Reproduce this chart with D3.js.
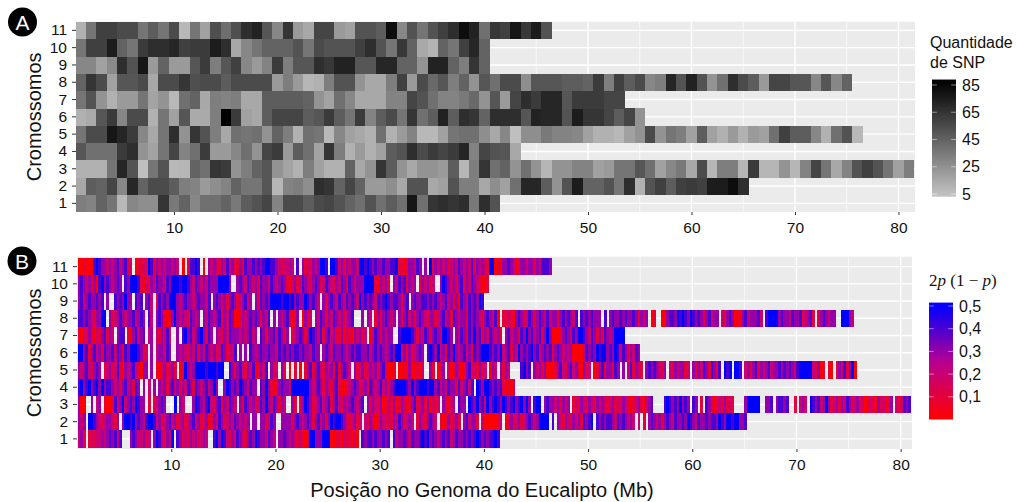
<!DOCTYPE html>
<html>
<head>
<meta charset="utf-8">
<script src="https://cdnjs.cloudflare.com/ajax/libs/d3/7.8.5/d3.min.js"></script>
<style>
html, body { margin: 0; padding: 0; background: #fff; }
svg { display: block; }
text { font-family: "Liberation Sans", Arial, sans-serif; fill: #111; }
</style>
</head>
<body>
<svg id="chart" width="1019" height="502"></svg>
<script>
const chromosomes = [1, 2, 3, 4, 5, 6, 7, 8, 9, 10, 11];
const xTicks = [10, 20, 30, 40, 50, 60, 70, 80];
const xMinor = [5, 15, 25, 35, 45, 55, 65, 75];
const snpTicks = [5, 25, 45, 65, 85];
const hetTicks = [0.1, 0.2, 0.3, 0.4, 0.5];

// SNP count per Mb, one value per cell starting at Mb 1
const snpChr1 = [33,31,44,37,8,29,26,26,65,35,44,29,39,39,44,35,47,52,58,31,55,55,47,55,58,52,44,39,52,39,47,39,78,39,65,68,65,68,35,68,52];
const snpChr2 = [15,47,44,58,29,70,44,55,55,47,33,31,21,26,31,44,37,37,50,9,31,33,26,68,65,44,58,44,21,21,26,15,52,52,15,18,52,33,33,15,26,18,39,70,70,47,24,52,74,44,44,52,37,68,11,52,59,47,59,62,59,74,74,82,68];
const snpChr3 = [11,11,11,37,70,52,5,37,52,8,9,44,39,65,62,24,33,44,50,24,17,11,33,18,11,11,44,15,24,65,47,24,15,24,24,21,47,9,33,65,39,44,24,39,24,9,24,24,31,31,18,21,37,37,50,39,18,29,35,15,55,9,33,33,9,62,9,9,24,9,31,58,37,15,31,52,59,52,37,18,33];
const snpChr4 = [50,39,39,39,62,68,24,17,37,58,31,39,62,21,21,29,39,24,58,62,21,47,39,17,65,33,11,21,11,18,47,52,68,55,62,58,62,70,31,58,52,50,15];
const snpChr5 = [37,55,55,78,70,62,29,15,37,68,24,65,52,33,15,39,37,39,24,44,33,11,39,37,8,29,18,15,11,39,11,21,31,8,8,18,37,39,39,26,15,29,5,26,26,35,31,31,29,18,11,11,8,18,24,55,24,37,33,18,47,18,11,21,11,21,18,39,59,47,47,29,11,39,52,8];
const snpChr6 = [11,14,50,62,29,55,55,11,37,18,50,14,14,33,85,62,18,15,47,58,58,58,47,50,62,47,37,62,31,47,55,37,65,39,47,72,47,68,65,44,68,68,68,50,72,70,70,52,76,65,65,58,47,58,24];
const snpChr7 = [37,52,24,11,21,21,37,17,24,8,39,44,15,33,31,33,15,15,47,47,47,47,44,24,17,39,29,15,15,15,31,31,58,52,39,31,31,35,42,24,50,21,58,68,62,70,70,50,62,62,62,58,58];
const snpChr8 = [44,65,55,18,50,50,55,15,55,55,65,53,55,55,47,55,55,55,55,21,33,21,9,11,33,52,52,24,15,15,33,60,21,55,42,50,33,44,24,50,39,55,55,26,50,50,50,47,47,44,62,33,60,47,55,29,33,70,52,72,52,24,39,68,55,47,21,58,58,50,50,29,50,29,44];
const snpChr9 = [29,29,18,28,68,52,78,21,44,21,21,50,62,33,50,59,29,21,31,62,33,50,50,68,63,72,72,50,50,70,70,44,44,24,72,72,44,33,65,44];
const snpChr10 = [37,59,59,74,44,37,62,68,68,70,59,62,62,74,67,15,29,37,44,44,44,52,37,55,52,52,52,59,68,52,37,63,44,15,10,44,37,60,70,44];
const snpChr11 = [11,37,60,60,55,55,37,47,37,55,8,37,18,53,40,53,67,72,50,29,65,21,15,58,58,21,18,52,52,47,80,29,52,37,52,59,67,80,72,39,63,60,78,63,74,52];

// Heterozygosity 2p(1-p) in tenths, four values per Mb from Mb 1, _ where nothing is plotted
const _ = null;
const hetChr1 = [
  2,3,1,_, 1,2,1,2, 2,3,2,3, 4,3,4,2, 4,_,_,_,
  3,4,3,2, 2,3,1,2, _,3,5,4, 2,1,3,2, 5,_,4,3,
  1,2,1,3, 2,3,1,2, 3,2,_,_, 4,5,3,5, 4,2,1,3,
  2,4,3,2, 1,3,4,3, 5,4,3,3, 2,4,3,2, _,3,3,4,
  3,2,3,2, 1,2,1,0, 2,5,5,3, 3,3,5,5, 5,0,0,1,
  1,0,2,1, 1,0,2,0, _,4,3,4, 4,3,4,3, 3,4,3,4,
  _,4,2,3, 3,4,3,2, 4,3,3,4, 5,4,5,3, 4,3,2,3,
  4,3,4,2, 3,4,3,3, 4,3,4,3, 4,5,4,3, 4,3,4,4,
  5,4];
const hetChr2 = [
  3,2,3,_, 5,5,4,3, 2,1,2,3, 3,2,1,3, _,3,5,5,
  4,5,3,4, 3,2,4,5, 5,4,2,3, 1,2,3,4, 2,3,1,2,
  3,1,2,3, 4,2,3,1, 2,3,0,1, 3,2,4,3, 1,2,3,2,
  4,3,2,3, 2,3,_,3, 3,_,3,3, 1,2,4,3, _,_,3,3,
  3,3,1,3, 4,3,2,3, 4,3,1,3, 4,2,3,1, 3,5,4,5,
  5,4,3,2, 1,2,3,1, 2,_,2,1, 3,2,0,1, 3,2,1,2,
  1,3,2,4, 3,1,2,3, 2,_,1,3, 2,1,3,4, 3,2,_,1,
  0,1,3,1, 2,3,1,_, 3,4,2,3, 3,1,_,2, 0,0,0,0,
  0,1,2,_, 0,1,3,1, 2,3,1,2, 3,4,3,2, 3,5,5,5,
  5,_,4,_, 3,2,1,3, 2,1,3,2, 3,1,4,3, 4,5,_,4,
  3,4,3,4, 4,3,2,4, 3,4,3,2, 3,2,_,2, _,1,_,3,
  4,3,2,3, 1,3,4,3, 2,4,3,3, 4,3,5,4, 3,2,4,3,
  3,4,3,4, 4,3,5,4, 3,5,5,4, 5,5,3,3, 4];
const hetChr3 = [
  3,0,0,_, _,3,_,2, 3,_,1,0, 0,1,4,2, 3,5,2,3,
  4,3,5,4, 3,3,_,1, _,1,2,3, 4,3,_,_, _,5,_,3,
  2,_,_,_, 3,5,4,3, 2,4,5,2, 1,3,4,1, 3,2,4,3,
  2,_,3,1, 4,3,2,3, 1,2,4,3, 5,3,2,4, 3,1,3,2,
  _,_,3,1, _,1,3,5, 4,3,1,2, 3,4,2,3, 4,1,3,4,
  2,1,3,2, 3,4,3,2, 3,4,_,3, 1,3,2,1, 3,0,1,2,
  1,3,0,1, 3,2,0,1, 3,4,1,2, 3,1,3,0, 2,1,2,_,
  3,1,0,2, 3,_,4,3, 3,_,5,4, 3,5,3,4, 2,5,3,4,
  5,4,3,5, 4,3,4,5, 3,4,5,3, 5,3,_,4, 5,5,_,3,
  4,3,3,2, 3,1,3,2, 3,_,1,2, 1,3,2,1, 3,2,1,3,
  2,3,2,1, 2,3,1,2, 1,3,2,1, 0,1,2,3, 1,0,2,3,
  4,_,_,_, _,4,5,4, 3,4,3,5, 3,4,3,_, 4,3,_,1,
  _,4,3,1, 0,1,2,1, 3,1,2,1, _,_,_,_, 3,5,5,5,
  5,5,_,_, 3,3,4,_, 3,4,4,3, 4,_,_,1, _,2,3,2,
  _,5,4,3, 4,2,3,5, 3,1,2,3, 1,3,2,4, 3,1,2,3,
  1,2,0,1, 2,1,0,3, 1,2,0,1, 3,_,2,1, 2,4,3,4];
const hetChr4 = [
  4,5,3,4, 5,3,4,5, 3,5,3,4, 4,3,2,3, 1,3,4,2,
  3,1,4,3, _,3,_,2, _,3,_,3, 2,3,1,3, 4,2,3,1,
  3,2,4,3, 1,4,3,2, 3,4,2,3, 5,3,_,_, 3,5,4,3,
  4,3,5,4, 3,2,4,3, 3,_,4,3, 5,3,1,0, 1,3,4,3,
  3,2,5,5, 5,5,5,5, 5,3,2,3, 4,3,1,3, 2,1,3,4,
  1,0,0,1, 2,3,4,3, 1,2,3,1, 4,3,2,3, 4,2,3,1,
  3,4,5,5, 5,5,4,3, 5,3,4,5, 5,5,4,5, 5,3,4,2,
  3,2,4,3, 3,1,4,2, 3,4,2,4, _,5,4,3, 5,5,4,3,
  4,3,4,1, 0,1,0,2];
const hetChr5 = [
  3,2,3,4, 2,1,3,4, 3,_,1,2, 3,1,2,4, 1,0,3,2,
  3,4,2,1, 0,3,3,_, 3,_,1,0, 2,3,1,2, 3,1,_,0,
  1,5,3,2, 3,5,5,5, 5,4,5,5, 5,4,5,5, _,_,4,3,
  1,3,4,2, 1,3,2,4, 0,1,3,2, 4,_,3,1, 2,_,3,1,
  _,0,_,1, _,0,_,1, 3,4,1,3, 4,2,1,3, 2,3,1,4,
  1,3,4,3, 2,_,3,1, 2,3,1,2, 3,2,3,1, 3,4,1,0,
  0,1,_,0, 0,1,0,3, 0,0,1,0, 2,_,_,3, 1,_,0,1,
  3,_,2,0, 1,3,2,0, 1,3,4,1, 2,1,3,1, 2,_,0,3,
  2,_,3,1, 3,2,_,_, _,_,4,5, 3,4,_,3, 2,3,1,3,
  0,0,0,1, 3,4,2,1, 3,4,2,3, 1,0,3,1, 2,_,0,1,
  3,4,1,3, 3,1,4,3, _,3,_,2, 4,1,3,2, 1,_,3,4,
  3,4,3,2, 1,3,_,2, 1,3,2,3, 3,1,2,_, 3,1,3,2,
  4,3,1,4, 3,1,4,_, 5,4,5,_, 5,5,4,_, 2,3,1,3,
  4,1,3,2, 3,4,2,3, 3,4,3,4, 3,4,3,2, 4,5,5,5,
  5,5,2,1, 3,0,1,_, 1,0,_,1, 3,2,4,1, 3,5,0];
const hetChr6 = [
  5,5,3,4, 1,3,4,2, 3,1,4,3, 3,4,2,4, 3,1,4,3,
  5,5,5,4, 3,1,2,_, 3,_,2,3, 3,2,4,3, _,_,3,2,
  3,2,1,3, 2,4,1,3, 2,4,3,2, 3,1,2,4, 3,1,2,2,
  4,_,3,_, 3,_,4,3, 2,3,4,3, 3,4,3,3, 2,4,3,4,
  3,4,3,4, 4,3,4,3, 3,2,4,3, 3,_,3,4, 3,2,4,3,
  3,4,3,2, 3,4,3,4, 4,3,3,4, 2,3,4,3, 4,3,2,3,
  4,3,5,5, 2,3,1,3, 1,2,3,4, 3,_,4,5, 4,3,5,2,
  3,1,4,3, 5,3,2,3, 4,2,3,1, 4,3,4,5, 5,5,4,3,
  4,3,5,2, 3,4,1,3, 2,5,3,4, 3,4,5,3, 4,2,3,4,
  3,4,1,3, 4,3,2,3, 2,3,0,0, 0,0,2,4, 3,4,3,5,
  4,5,5,3, 4,3,5,4, 2,4,3,1, 3,2,4,3];
const hetChr7 = [
  1,0,2,1, 3,1,0,2, 1,3,4,1, 3,2,_,3, 4,4,_,1,
  0,3,4,2, 3,4,_,2, 3,_,2,1, 3,2,4,1, _,_,3,_,
  4,5,3,4, 2,3,4,5, 3,1,4,3, _,3,2,1, 3,2,4,3,
  3,3,2,3, 2,3,4,2, 3,_,4,3, 1,3,3,4, 2,4,3,1,
  3,_,1,2, 3,4,3,1, 3,5,4,3, 2,4,1,3, 4,2,3,1,
  1,3,0,2, 1,0,3,2, 3,1,2,_, 0,2,4,3, 1,3,2,3,
  3,_,_,4, 5,5,5,5, 4,3,1,3, 2,4,3,1, 3,4,3,2,
  5,5,4,3, _,3,2,4, 3,1,4,3, 5,3,4,1, 3,2,4,3,
  2,3,1,_, 3,4,2,3, 3,1,4,3, 5,3,4,2, 3,4,1,3,
  5,3,0,0, 0,1,3,4, 3,2,4,3, 5,5,4,3, 2,4,3,1,
  3,1,4,3, 2,3,5,5, 5,5];
const hetChr8 = [
  4,4,3,4, 3,2,1,3, 3,5,5,_, 3,1,2,3, 4,3,2,3,
  3,4,2,3, 4,3,_,4, 2,_,3,4, 3,1,0,1, 3,5,3,2,
  3,2,1,4, 3,2,3,_, 3,2,4,3, 2,3,4,1, 3,2,4,3,
  0,0,1,3, 2,3,4,3, 4,3,1,3, 2,4,_,3, _,3,2,3,
  4,1,0,1, 3,_,0,3, 1,2,_,3, 2,4,3,1, 3,2,4,3,
  2,3,1,2, 3,4,_,_, _,3,_,3, 2,_,1,3, 1,3,4,3,
  2,3,_,3, 1,3,4,2, 3,1,3,4, 3,2,1,3, 3,1,2,3,
  4,2,3,1, 4,3,2,3, 3,1,4,3, 4,3,2,1, 3,4,3,2,
  4,0,_,1, 1,2,1,0, 3,4,3,1, 2,4,3,1, 3,4,3,2,
  4,2,3,3, 1,3,4,3, 4,3,2,4, _,4,3,4, 3,4,3,3,
  3,_,4,_, 3,4,3,3, 4,3,4,3, 3,4,3,1, 3,2,3,_,
  0,1,_,_, 0,0,3,4, 4,3,5,4, 5,4,3,5, 4,3,4,3,
  1,3,4,2, 3,3,_,2, 1,3,4,3, 0,1,0,3, 4,2,3,3,
  3,4,2,_, 4,5,5,5, 5,3,4,3, 3,2,4,3, 3,4,1,2,
  3,4,1,_, 1,3,4,3, 2,3,3,_, _,5,5,5, 3,2];
const hetChr9 = [
  3,4,2,3, 4,3,3,4, 3,4,_,3, _,_,4,3, 4,3,5,3,
  3,_,4,3, 4,_,3,4, 2,_,1,4, 3,4,3,5, 5,5,3,2,
  3,4,3,3, 2,3,4,3, 3,2,4,_, 3,4,3,2, 3,1,3,4,
  3,1,2,3, 4,2,3,_, 3,1,4,3, 4,3,5,5, 5,5,4,5,
  5,4,5,3, 4,3,3,5, 4,3,4,3, 2,_,3,1, 3,4,3,2,
  4,3,2,4, 3,4,3,2, 5,3,4,3, 4,3,2,4, 3,4,5,4,
  3,4,4,3, 1,3,4,_, 3,4,3,3, 4,4,3,4, 3,4,3,2,
  3,4,2,3, 1,3,0,4, 3,2,4,3, 4,3,5,4];
const hetChr10 = [
  3,4,3,2, 3,1,3,0, 4,5,3,4, 3,2,3,4, 3,_,4,3,
  5,5,5,4, 1,0,2,1, 3,2,4,3, 3,2,4,3, 5,5,5,4,
  5,5,4,3, 2,4,3,2, 3,2,4,3, 3,3,5,5, 5,5,3,_,
  _,3,4,3, 2,4,3,2, 3,1,4,3, 3,2,4,3, 2,3,4,3,
  1,0,2,3, 1,2,4,3, 2,1,3,4, 3,1,2,4, 3,2,1,3,
  2,4,3,1, 4,3,2,3, 3,3,5,5, 5,5,1,0, 3,2,3,1,
  _,3,2,4, 3,4,1,3, 2,3,_,1, 3,2,3,1, 2,_,_,3,
  5,4,3,2, 3,1,3,4, 1,3,2,4, 3,2,1,0, 0,1];
const hetChr11 = [
  0,0,1,0, 0,0,4,5, 4,3,3,2, 3,2,3,4, 2,3,4,1,
  2,_,0,1, 1,2,1,5, 4,1,3,2, 3,2,3,3, 2,3,2,_,
  0,_,1,4, 4,5,4,_, 0,_,3,2, 3,2,1,3, 2,4,2,3,
  1,1,3,1, 4,3,3,4, 3,4,3,4, 5,5,4,4, 3,2,1,2,
  2,3,2,_, 4,_,3,1, 2,1,3,2, 3,5,5,4, _,5,5,4,
  2,3,1,3, 2,3,3,2, 5,5,4,5, 4,3,4,3, 3,4,3,3,
  4,4,5,1, 1,0,1,3, 3,2,4,3, _,3,_,5, 1,3,2,3,
  2,3,1,2, 3,2,4,3, 2,3,2,4, 1,3,2,3, 2,1,5,5,
  0,1,0,3, 3,4,3,2, 0,1,3,3, 2,3,3,1, 3,2,4,4,
  4,3];

const snpRows = [snpChr1, snpChr2, snpChr3, snpChr4, snpChr5, snpChr6, snpChr7, snpChr8, snpChr9, snpChr10, snpChr11];
const hetRows = [hetChr1, hetChr2, hetChr3, hetChr4, hetChr5, hetChr6, hetChr7, hetChr8, hetChr9, hetChr10, hetChr11];

const svg = d3.select("#chart");
const binMb = 0.25;

const snpColor = d3.scaleLinear().domain([5, 85]).range(["#bfbfbf", "#050505"]);
// middle stop
const hetColor = d3.scaleLinear().domain([0, 0.25, 0.5]).range(["#ff0000", "#bb0090", "#0000ff"]);

const defs = svg.append("defs");
defs.append("filter").attr("id", "soft")
    .append("feGaussianBlur").attr("stdDeviation", 0.3);

// panel furniture shared by A and B
function drawPanel(g, x, y, box) {
    g.append("rect")
        .attr("x", box.left).attr("y", box.top)
        .attr("width", box.right - box.left).attr("height", box.bottom - box.top)
        .attr("fill", "#ebebeb");
    g.selectAll(".minor").data(xMinor).enter().append("line")
        .attr("x1", d => x(d)).attr("x2", d => x(d))
        .attr("y1", box.top).attr("y2", box.bottom)
        .attr("stroke", "#fff").attr("stroke-width", 0.7);
    g.selectAll(".major").data(xTicks).enter().append("line")
        .attr("x1", d => x(d)).attr("x2", d => x(d))
        .attr("y1", box.top).attr("y2", box.bottom)
        .attr("stroke", "#fff").attr("stroke-width", 1.4);
    g.selectAll(".rowline").data(chromosomes).enter().append("line")
        .attr("x1", box.left).attr("x2", box.right)
        .attr("y1", d => y(d) + y.bandwidth() / 2).attr("y2", d => y(d) + y.bandwidth() / 2)
        .attr("stroke", "#fff").attr("stroke-width", 1.4);
}

function drawAxes(g, x, y, box, xLabelY) {
    const ax = g.append("g")
        .attr("transform", `translate(0,${box.bottom})`)
        .call(d3.axisBottom(x).tickValues(xTicks).tickSize(3).tickPadding(0));
    ax.select(".domain").remove();
    ax.selectAll("line").attr("stroke", "#333");
    ax.selectAll("text")
        .attr("y", xLabelY - box.bottom).attr("dy", "0.35em")
        .attr("font-size", 15.5).style("font-family", "'Liberation Sans'").attr("fill", "#111");

    const ay = g.append("g")
        .attr("transform", `translate(${box.left},0)`)
        .call(d3.axisLeft(y).tickSize(4).tickPadding(5));
    ay.select(".domain").remove();
    ay.selectAll("line").attr("stroke", "#333");
    ay.selectAll("text")
        .attr("font-size", 15.5).style("font-family", "'Liberation Sans'").attr("fill", "#111");

    g.append("text")
        .attr("transform", `translate(41,${(box.top + box.bottom) / 2}) rotate(-90)`)
        .attr("text-anchor", "middle")
        .attr("font-size", 20)
        .text("Cromossomos");
}

function badge(letter, cx, cy) {
    svg.append("circle").attr("cx", cx).attr("cy", cy).attr("r", 14.5).attr("fill", "#000");
    svg.append("text")
        .attr("x", cx).attr("y", cy + 7.5)
        .attr("text-anchor", "middle")
        .attr("font-size", 21)
        .style("fill", "#fff")
        .text(letter);
}

// Panel A
const boxA = {left: 76, right: 915, top: 21.7, bottom: 212};
const xA = d3.scaleLinear().domain([0.5, 81.5]).range([75.7, 914]);
const yA = d3.scaleBand().domain(chromosomes).range([boxA.bottom, boxA.top]);
const panelA = svg.append("g");
drawPanel(panelA, xA, yA, boxA);

const cellsA = panelA.append("g").attr("filter", "url(#soft)").attr("shape-rendering", "crispEdges");
chromosomes.forEach((chr, r) => {
    cellsA.append("g").selectAll("rect").data(snpRows[r]).enter().append("rect")
        .attr("x", (d, i) => xA(i + 0.5))
        .attr("y", yA(chr))
        .attr("width", xA(1.5) - xA(0.5) + 0.3)
        .attr("height", yA.bandwidth() + 0.3)
        .attr("fill", d => snpColor(d));
});
drawAxes(panelA, xA, yA, boxA, 228);

// Panel B
const boxB = {left: 77, right: 912, top: 256.7, bottom: 449};
const xB = d3.scaleLinear().domain([1, 81]).range([77.5, 911.1]);
const yB = d3.scaleBand().domain(chromosomes).range([447.5, 258]);
const panelB = svg.append("g");
drawPanel(panelB, xB, yB, boxB);

const cellsB = panelB.append("g").attr("filter", "url(#soft)").attr("shape-rendering", "crispEdges");
chromosomes.forEach((chr, r) => {
    const stripes = hetRows[r].map((v, i) => ({mb: 1 + i * binMb, v: v})).filter(d => d.v !== null);
    cellsB.append("g").selectAll("rect").data(stripes).enter().append("rect")
        .attr("x", d => xB(d.mb))
        .attr("y", yB(chr))
        .attr("width", xB(1 + binMb) - xB(1) + 0.2)
        .attr("height", yB.bandwidth() + 0.2)
        .attr("fill", d => hetColor(d.v / 10));
});
drawAxes(panelB, xB, yB, boxB, 465);

svg.append("text")
    .attr("x", 482).attr("y", 497)
    .attr("text-anchor", "middle")
    .attr("font-size", 20)
    .text("Posição no Genoma do Eucalipto (Mb)");

badge("A", 22.5, 22);
badge("B", 22, 261);

// Legends
function colorBar(id, scale, domain, color, x, w, ticks, fmt) {
    const grad = defs.append("linearGradient")
        .attr("id", id).attr("x1", 0).attr("x2", 0).attr("y1", 1).attr("y2", 0);
    d3.range(0, 11).forEach(k => {
        const t = k / 10;
        grad.append("stop")
            .attr("offset", t)
            .attr("stop-color", color(domain[0] + t * (domain[1] - domain[0])));
    });
    svg.append("rect")
        .attr("x", x).attr("y", scale(domain[1]))
        .attr("width", w).attr("height", scale(domain[0]) - scale(domain[1]))
        .attr("fill", `url(#${id})`);
    ticks.forEach(t => {
        [[x, x + w / 5], [x + w * 4 / 5, x + w]].forEach(seg => {
            svg.append("line")
                .attr("x1", seg[0]).attr("x2", seg[1])
                .attr("y1", scale(t)).attr("y2", scale(t))
                .attr("stroke", "#fff").attr("stroke-opacity", 0.6).attr("stroke-width", 0.8);
        });
        svg.append("text")
            .attr("x", x + w + 6).attr("y", scale(t))
            .attr("dy", "0.35em")
            .attr("font-size", 16)
            .text(fmt(t));
    });
}

const legendSnp = d3.scaleLinear().domain([5, 85]).range([194, 85]);
svg.append("text").attr("x", 930).attr("y", 48).attr("font-size", 16).text("Quantidade");
svg.append("text").attr("x", 930).attr("y", 68).attr("font-size", 16).text("de SNP");
colorBar("snpGrad", legendSnp, [3, 89], snpColor, 932, 24, snpTicks, d => d);

const legendHet = d3.scaleLinear().domain([0, 0.5]).range([419.5, 306]);
const hetTitle = svg.append("text").attr("x", 929).attr("y", 286)
    .attr("font-size", 17).style("font-family", "'Liberation Serif'");
hetTitle.append("tspan").text("2");
hetTitle.append("tspan").attr("font-style", "italic").text("p");
hetTitle.append("tspan").text(" (1 − ");
hetTitle.append("tspan").attr("font-style", "italic").text("p");
hetTitle.append("tspan").text(")");
colorBar("hetGrad", legendHet, [0, 0.515], hetColor, 929, 24, hetTicks, d => d3.format(".1f")(d).replace(".", ","));
</script>
</body>
</html>
